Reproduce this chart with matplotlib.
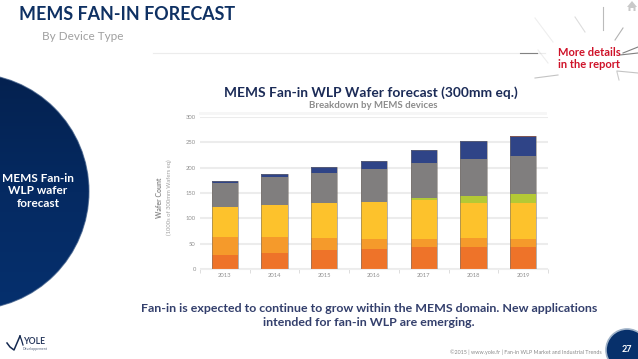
import numpy as np
import matplotlib
matplotlib.use("Agg")
import matplotlib.pyplot as plt
from matplotlib.patches import Circle, Polygon
from matplotlib.colors import LinearSegmentedColormap

W, H = 638, 359
plt.rcParams['font.family'] = ['Lato', 'DejaVu Sans']

years = ['2013', '2014', '2015', '2016', '2017', '2018', '2019']
y_ticks = [0, 50, 100, 150, 200, 250, 300]
orange = [28, 31, 37, 40, 43, 44, 43]
light_orange = [35, 32, 24, 19, 16, 17, 16]
yellow = [60, 63, 69, 74, 78, 69, 71]
lime = [0, 0, 0, 0, 3, 15, 19]
grey = [46, 55, 60, 65, 70, 72, 75]
navy = [5, 6, 12, 15, 24, 35, 36]
dark_red = [0, 0, 0, 0, 0, 0, 3]
series = [orange, light_orange, yellow, lime, grey, navy, dark_red]
colors = ['#EE7329', '#F59A2B', '#FDC22C', '#B4C935', '#807E7E', '#2F4487', '#8A3B3F']

fig = plt.figure(figsize=(W / 100, H / 100), dpi=100, facecolor='white')

# page layer in pixel coordinates
bg = fig.add_axes([0, 0, 1, 1])
bg.set_xlim(0, W)
bg.set_ylim(H, 0)
bg.axis('off')

# faint rules and starburst
bg.plot([153, 545], [53, 53], color='#ececec', lw=0.8)
bg.plot([200, 545], [113, 113], color='#f6f6f6', lw=2)
burst = [(535, 18, 553, 42, .1), (575, 17, 585, 32, .2), (603, 7, 603, 30, .4),
         (623, 28, 615, 40, .45), (520, 53, 537, 53, .7), (538, 50, 548, 63, .1),
         (535, 78, 558, 75, .35), (623, 53, 638, 47, .75), (620, 55, 638, 53, .75),
         (617, 71, 638, 73, .35), (617, 72, 619, 80, .3)]
for x0, y0, x1, y1, a in burst:
    bg.plot([x0, x1], [y0, y1], color='#555555', alpha=a, lw=0.8)

# large gradient circle
cmap = LinearSegmentedColormap.from_list('c', ['#04214f', '#052a62', '#06306e'])
grad = np.linspace(0, 1, 256).reshape(-1, 1)
im = bg.imshow(grad, extent=(-150, 92, 312, 72), cmap=cmap, aspect='auto', zorder=2)
clip = Circle((-29, 191.5), 118, transform=bg.transData)
im.set_clip_path(clip)
bg.add_patch(Circle((-29, 191.5), 118, fc='none', ec='#3b5a86', lw=0.8, alpha=.7, zorder=3))
for txt, yy in zip(['MEMS Fan-in', 'WLP wafer', 'forecast'], [178, 191, 203.5]):
    bg.text(38, yy, txt, color='white', fontsize=8.5, fontweight='bold', ha='center', va='center', zorder=4)
bg.set_xlim(0, W)
bg.set_ylim(H, 0)

# page number circle
bg.add_patch(Circle((627, 350), 21, fc='#07306b', ec='#9fb2c8', lw=1.2, zorder=2))
bg.text(627, 350, '27', color='white', fontsize=6.5, fontweight='bold', ha='center', va='center', zorder=3)

# home icon
bg.add_patch(Polygon([(627, 7), (632, 1), (637, 7), (635.5, 7), (635.5, 11), (633.5, 11), (633.5, 8),
                      (630.5, 8), (630.5, 11), (628.5, 11), (628.5, 7)], fc='#c9c9c9', ec='none'))

# headings
bg.text(19, 14, 'MEMS FAN-IN FORECAST', color='#0f3163', fontsize=12.85, fontweight='bold', va='center')
bg.text(42, 36, 'By Device Type', color='#a0a0a0', fontsize=8.5, va='center')
bg.text(589, 52, 'More details', color='#cf1229', fontsize=8, fontweight='bold', ha='center', va='center')
bg.text(589, 65, 'in the report', color='#cf1229', fontsize=8, fontweight='bold', ha='center', va='center')
bg.text(371, 92.5, 'MEMS Fan-in WLP Wafer forecast (300mm eq.)', color='#1b2b57', fontsize=9.9,
        fontweight='bold', ha='center', va='center')
bg.text(373, 106, 'Breakdown by MEMS devices', color='#8c8c8c', fontsize=6.9, fontweight='bold',
        ha='center', va='center')
bg.text(369, 308, 'Fan-in is expected to continue to grow within the MEMS domain. New applications',
        color='#333f6c', fontsize=8.9, fontweight='bold', ha='center', va='center')
bg.text(369, 323, 'intended for fan-in WLP are emerging.', color='#333f6c', fontsize=8.9,
        fontweight='bold', ha='center', va='center')
bg.text(602, 352, '©2015 | www.yole.fr | Fan-in WLP Market and Industrial Trends', color='#8a8a8a',
        fontsize=3.9, ha='right', va='center')

# logo
bg.text(23, 342, 'YOLE', color='#2a3a5e', fontsize=6.2, fontweight='bold', va='center')
bg.text(23, 349, 'Développement', color='#56657f', fontsize=2.5, va='center')
bg.plot([7, 10, 14, 17, 20], [343, 347, 350, 343, 336], color='#14284f', lw=1.1)
bg.plot([20, 21.5, 23], [336, 340, 345], color='#14284f', lw=0.9)

# chart
ax = fig.add_axes([200 / W, 1 - 269 / H, 348 / W, 152 / H], facecolor='none')
x = np.arange(len(years))
bottom = np.zeros(len(years))
for vals, col in zip(series, colors):
    ax.bar(x, vals, bottom=bottom, width=0.53, color=col, edgecolor='none')
    bottom += np.array(vals)
ax.bar(x, bottom, width=0.53, color='none', edgecolor='#77706a', linewidth=0.7, alpha=.55)
ax.set_xlim(-0.5, 6.5)
ax.set_ylim(0, 300)
ax.set_yticks(y_ticks)
ax.set_xticks(x)
ax.set_xticklabels(years)
ax.set_axisbelow(True)
ax.grid(axis='y', color='#ececec', lw=1.5)
ax.tick_params(axis='both', length=0, labelsize=4.2, labelcolor='#8f8f8f', pad=3)
ax.set_xticks(np.arange(-0.5, 7, 1), minor=True)
ax.tick_params(axis='x', which='minor', length=3, color='#dddddd', width=0.7)
for s in ax.spines.values():
    s.set_visible(False)
ax.spines['bottom'].set_visible(True)
ax.spines['bottom'].set_color('#eeeeee')
ax.text(-0.115, 0.47, 'Wafer Count', transform=ax.transAxes, rotation=90, color='#8a8a8a',
        fontsize=5, fontweight='bold', ha='center', va='center')
ax.text(-0.087, 0.47, "(1000s of 300mm Wafers eq)", transform=ax.transAxes, rotation=90, color='#a0a0a0',
        fontsize=4.2, ha='center', va='center')

fig.savefig('out.png', dpi=100)
